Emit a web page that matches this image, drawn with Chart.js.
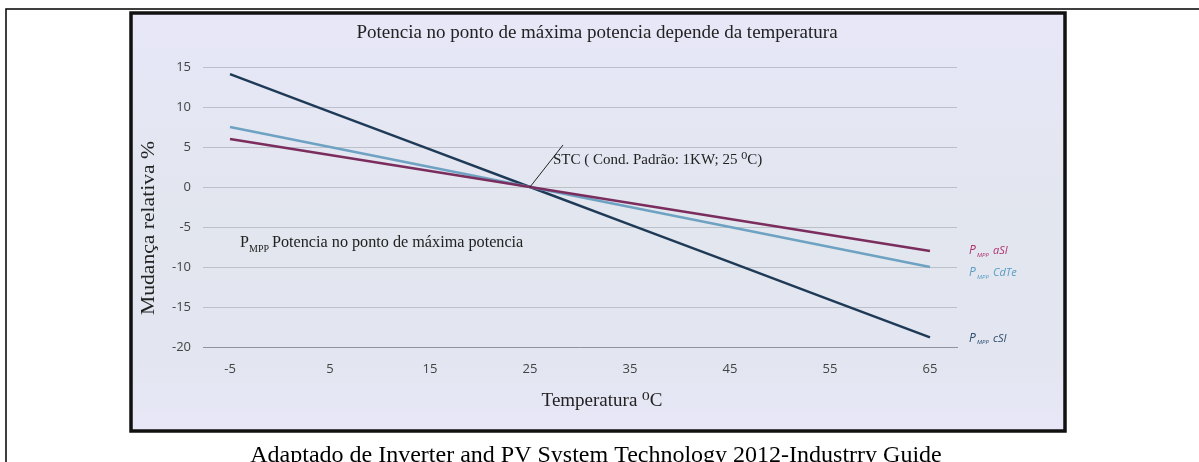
<!DOCTYPE html>
<html>
<head>
<meta charset="utf-8">
<script src="https://cdn.jsdelivr.net/npm/chart.js@4/dist/chart.umd.min.js"></script>
<style>
  body { margin: 0; background: #fff; }
  canvas { display: block; }
</style>
</head>
<body>
<canvas id="tempChart" width="1199" height="462"></canvas>
<script>
// temperatures (deg C) and relative change of Pmpp (%)
const temps = [-5, 5, 15, 25, 35, 45, 55, 65];
const cSI  = [14.1, 9.4, 4.7, 0, -4.7, -9.4, -14.1, -18.8];
const CdTe = [7.5, 5, 2.5, 0, -2.5, -5, -7.5, -10];
const aSI  = [6, 4, 2, 0, -2, -4, -6, -8];
const yTicks = [15, 10, 5, 0, -5, -10, -15, -20];

const serif = '"Liberation Serif", "DejaVu Serif", serif';
const sans = '"Open Sans", "DejaVu Sans", sans-serif';

const toPoints = vals => temps.map((t, i) => ({ x: t, y: vals[i] }));

// series label settings (name after the P_MPP prefix, colour, vertical nudge)
const labels = [
  { name: 'aSI', color: '#b0306e', dy: 0 },
  { name: 'CdTe', color: '#5a9cc6', dy: 6 },
  { name: 'cSI', color: '#2c4a6a', dy: 1 }
];

// text drawn with a horizontal stretch, centred on x
function stretchText(c, text, x, y, sx) {
  c.save();
  c.translate(x, y);
  c.scale(sx, 1);
  c.fillText(text, 0, 0);
  c.restore();
}

const decor = {
  id: 'decor',
  beforeDraw(chart) {
    const c = chart.ctx;
    c.save();
    c.fillStyle = '#fff';
    c.fillRect(0, 0, chart.width, chart.height);
    // outer page border
    c.strokeStyle = '#000';
    c.lineWidth = 1.5;
    c.beginPath();
    c.moveTo(6, chart.height);
    c.lineTo(6, 9);
    c.lineTo(chart.width, 9);
    c.stroke();
    // chart frame
    const g = c.createLinearGradient(0, 13, 0, 431);
    g.addColorStop(0, '#e7e7f8');
    g.addColorStop(0.5, '#e2e6ee');
    g.addColorStop(0.85, '#e3e6f1');
    g.addColorStop(1, '#e8e7f8');
    c.fillStyle = g;
    c.fillRect(131, 13, 934, 418);
    c.lineWidth = 3.5;
    c.strokeStyle = '#111';
    c.strokeRect(131, 13, 934, 418);
    c.restore();
  },
  afterDraw(chart) {
    const c = chart.ctx;
    const xs = chart.scales.x, ys = chart.scales.y;
    c.save();
    c.fillStyle = '#222';
    c.textBaseline = 'middle';
    c.textAlign = 'center';
    c.font = '19px ' + serif;
    c.fillText('Potencia no ponto de máxima potencia depende da temperatura', 597, 33);

    // axis titles
    c.fillText('Temperatura ⁰C', 602, 401);
    c.save();
    c.translate(149, 228);
    c.rotate(-Math.PI / 2);
    c.font = '18px ' + serif;
    stretchText(c, 'Mudança relativa %', 0, 0, 1.2);
    c.restore();

    // STC pointer
    const px = xs.getPixelForValue(25), py = ys.getPixelForValue(0);
    c.strokeStyle = '#222';
    c.lineWidth = 1;
    c.beginPath();
    c.moveTo(px, py);
    c.lineTo(px + 33, py - 42);
    c.stroke();
    c.textAlign = 'left';
    c.font = '15px ' + serif;
    c.fillText('STC ( Cond. Padrão: 1KW; 25 ⁰C)', 553, 160);

    // P_MPP note
    c.font = '16px ' + serif;
    c.fillText('P', 240, 243);
    c.font = '10px ' + serif;
    c.fillText('MPP', 249, 249);
    c.font = '16.2px ' + serif;
    c.fillText('Potencia no ponto de máxima potencia', 272, 243);

    // series labels at the right end
    const lx = xs.getPixelForValue(temps[temps.length - 1]) + 39;
    chart.data.datasets.forEach((ds, i) => {
      const last = ds.data[ds.data.length - 1].y;
      const ly = ys.getPixelForValue(last) + labels[i].dy;
      c.fillStyle = labels[i].color;
      c.font = 'italic 12px ' + sans;
      c.fillText('P', lx, ly);
      c.font = 'italic 6px ' + sans;
      c.fillText('MPP', lx + 8, ly + 4);
      c.font = 'italic 11px ' + sans;
      c.fillText(labels[i].name, lx + 24, ly);
    });

    // source caption
    c.fillStyle = '#000';
    c.textAlign = 'center';
    c.textBaseline = 'alphabetic';
    c.font = '24px ' + serif;
    c.fillText('Adaptado de Inverter and PV System Technology 2012-Industrry Guide', 596, 462);
    c.restore();
  }
};

const ctx = document.getElementById('tempChart').getContext('2d');
const tempChart = new Chart(ctx, {
  type: 'line',
  data: {
    datasets: [
      { label: 'PMPP aSI', data: toPoints(aSI), borderColor: '#7b2d5e', borderWidth: 2.5 },
      { label: 'PMPP CdTe', data: toPoints(CdTe), borderColor: '#6ea2c2', borderWidth: 2.5 },
      { label: 'PMPP cSI', data: toPoints(cSI), borderColor: '#1f3a57', borderWidth: 2.5 }
    ]
  },
  options: {
    responsive: false,
    animation: false,
    layout: { padding: { left: 135, right: 242, top: 67, bottom: 0 } },
    elements: { point: { radius: 0 }, line: { tension: 0 } },
    plugins: { legend: { display: false }, tooltip: { enabled: false } },
    scales: {
      x: {
        type: 'linear',
        min: -7.7,
        max: 67.7,
        afterBuildTicks: s => { s.ticks = temps.map(v => ({ value: v })); },
        afterFit: s => { s.height = 115; },
        grid: { display: false },
        border: { display: true, color: '#8e939c', width: 1 },
        ticks: { color: '#444', font: { family: sans, size: 13 }, padding: 6 }
      },
      y: {
        min: -20,
        max: 15,
        afterBuildTicks: s => { s.ticks = yTicks.map(v => ({ value: v })); },
        afterFit: s => { s.width = 68; },
        grid: { color: '#bcc0c8', drawTicks: false },
        border: { display: false },
        ticks: { color: '#444', font: { family: sans, size: 13 }, padding: 12 }
      }
    }
  },
  plugins: [decor]
});
</script>
</body>
</html>
